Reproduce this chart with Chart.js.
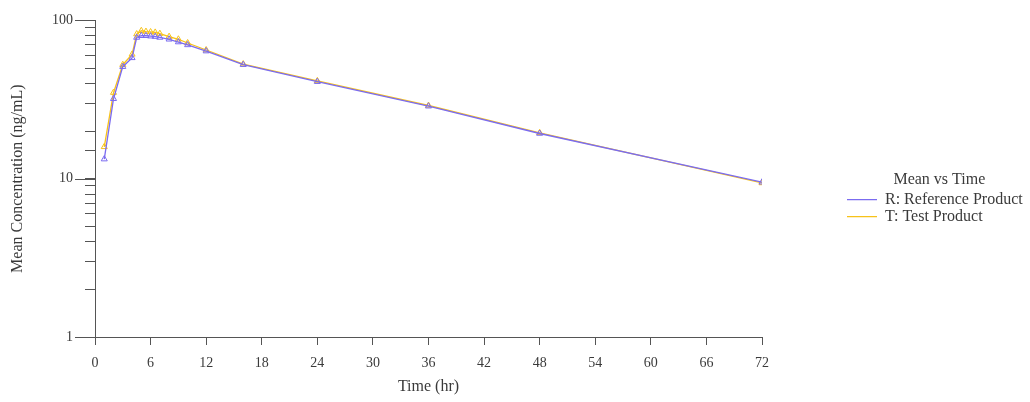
<!DOCTYPE html>
<html>
<head>
<meta charset="utf-8">
<script src="https://cdn.jsdelivr.net/npm/chart.js@4"></script>
<style>
html,body{margin:0;padding:0;background:#fff;}
#wrap{width:1030px;height:402px;position:relative;}
</style>
</head>
<body>
<div id="wrap"><canvas id="c" width="1030" height="402"></canvas></div>
<script>
const times = [1, 2, 3, 4, 4.5, 5, 5.5, 6, 6.5, 7, 8, 9, 10, 12, 16, 24, 36, 48, 72];
const refValues = [13.3, 32, 51, 58, 78, 80, 80, 79.5, 79, 78, 76, 73, 70, 64, 52.5, 41, 28.7, 19.3, 9.5];
const testValues = [15.9, 35, 52.5, 61, 82, 86, 85, 84.5, 84, 82.5, 79, 76, 72, 65, 53, 41.5, 29, 19.5, 9.4];
const xTicks = [0, 6, 12, 18, 24, 30, 36, 42, 48, 54, 60, 66, 72];
const yLabels = [1, 10, 100];
const seriesNames = ['R: Reference Product', 'T: Test Product'];
const legendTitle = 'Mean vs Time';
const xTitle = 'Time (hr)';
const yTitle = 'Mean Concentration (ng/mL)';

const refColor = '#7b6cf0';
const testColor = '#f7c21a';
const textColor = '#3a3a3a';
const axisColor = '#555555';
const FONT = "'Liberation Serif', 'DejaVu Serif', serif";

const toXY = (xs, ys) => xs.map((x, i) => ({x: x, y: ys[i]}));

// longer major ticks on the log axis
const majorTicks = {
  id: 'majorTicks',
  afterDraw(chart) {
    const s = chart.scales.y;
    const ctx = chart.ctx;
    ctx.save();
    ctx.strokeStyle = axisColor;
    ctx.lineWidth = 1;
    yLabels.forEach(v => {
      const p = Math.round(s.getPixelForValue(v)) + 0.5;
      ctx.beginPath();
      ctx.moveTo(s.right - 20, p);
      ctx.lineTo(s.right, p);
      ctx.stroke();
    });
    ctx.restore();
  }
};

// place the legend block further right, as in the reference
const legendShift = {
  id: 'legendShift',
  afterLayout(chart) {
    const l = chart.legend;
    const dx = 84, dy = -7;
    l.left += dx; l.right += dx; l.top += dy; l.bottom += dy;
  }
};

new Chart(document.getElementById('c'), {
  type: 'line',
  data: {
    datasets: [
      {
        label: seriesNames[0],
        data: toXY(times, refValues),
        borderColor: refColor,
        backgroundColor: refColor,
        pointBackgroundColor: 'rgba(0,0,0,0)',
        pointBorderColor: refColor,
        pointStyle: 'triangle',
        pointRadius: 3.5,
        borderWidth: 1.3,
        pointBorderWidth: 1,
        tension: 0
      },
      {
        label: seriesNames[1],
        data: toXY(times, testValues),
        borderColor: testColor,
        backgroundColor: testColor,
        pointBackgroundColor: 'rgba(0,0,0,0)',
        pointBorderColor: testColor,
        pointStyle: 'triangle',
        pointRadius: 3.5,
        borderWidth: 1.3,
        pointBorderWidth: 1,
        tension: 0
      }
    ]
  },
  options: {
    responsive: false,
    animation: false,
    devicePixelRatio: 1,
    layout: {padding: {top: 11, bottom: 2, left: 4, right: 10}},
    plugins: {
      tooltip: {enabled: false},
      legend: {
        position: 'right',
        align: 'center',
        title: {display: true, text: legendTitle, color: textColor, font: {family: FONT, size: 16}, padding: 0},
        labels: {
          color: textColor,
          font: {family: FONT, size: 16},
          boxWidth: 30,
          boxHeight: 0,
          padding: 1
        }
      }
    },
    scales: {
      x: {
        type: 'linear',
        min: 0,
        max: 72,
        afterBuildTicks: s => { s.ticks = xTicks.map(v => ({value: v})); },
        afterFit: s => { s.paddingRight = 268; s.height = 63; },
        grid: {drawOnChartArea: false, drawTicks: true, tickLength: 8, color: axisColor},
        border: {display: true, color: axisColor},
        ticks: {color: textColor, font: {family: FONT, size: 14}, padding: 10, maxRotation: 0},
        title: {display: true, text: xTitle, color: textColor, font: {family: FONT, size: 16}, padding: {top: 6}}
      },
      y: {
        type: 'logarithmic',
        min: 1,
        max: 100,
        afterFit: s => { s.width = 91; },
        grid: {drawOnChartArea: false, drawTicks: true, tickLength: 10, color: axisColor},
        border: {display: true, color: axisColor},
        ticks: {
          color: textColor,
          font: {family: FONT, size: 14},
          padding: 12,
          autoSkip: false,
          callback: v => yLabels.includes(v) ? String(v) : ''
        },
        title: {display: true, text: yTitle, color: textColor, font: {family: FONT, size: 16}, padding: {bottom: 4}}
      }
    }
  },
  plugins: [majorTicks, legendShift]
});
</script>
</body>
</html>
